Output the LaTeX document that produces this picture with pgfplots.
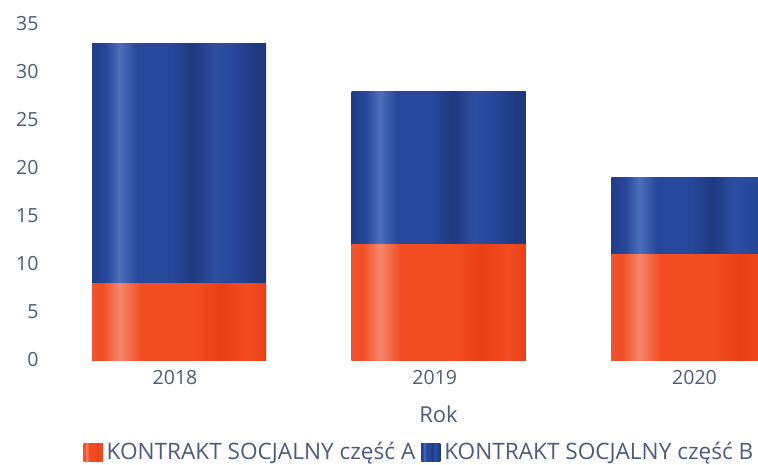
\documentclass[border=0pt]{standalone}
\usepackage{pgfplots}
\pgfplotsset{compat=1.18}
\usepackage{fontspec}
\setmainfont{Open Sans}
\definecolor{txt}{HTML}{4F5A7C}
\definecolor{orA}{HTML}{F24A20}
\definecolor{blB}{HTML}{22408E}
\definecolor{or1}{HTML}{EE5532}
\definecolor{or2}{HTML}{F24D22}
\definecolor{or3}{HTML}{F5876C}
\definecolor{or4}{HTML}{EA3E16}
\definecolor{b1}{HTML}{203D86}
\definecolor{b2}{HTML}{27479B}
\definecolor{b3}{HTML}{4E6DBA}
\definecolor{b4}{HTML}{1E397E}
\definecolor{b5}{HTML}{2D4DA0}
\pgfdeclarehorizontalshading{orshade}{100bp}{color(0bp)=(or1); color(25bp)=(or1); color(28bp)=(or2); color(33bp)=(or3); color(39bp)=(or2); color(55bp)=(or2); color(62bp)=(or4); color(70bp)=(or2); color(75bp)=(or4); color(100bp)=(or4)}
\pgfdeclarehorizontalshading{blshade}{100bp}{color(0bp)=(b1); color(25bp)=(b1); color(29bp)=(b2); color(33bp)=(b3); color(38bp)=(b2); color(48bp)=(b2); color(54bp)=(b4); color(60bp)=(b5); color(66bp)=(b2); color(72bp)=(b4); color(75bp)=(b4); color(100bp)=(b4)}
\begin{document}
\begin{tikzpicture}
\useasboundingbox (0,0) rectangle (758pt,-465pt);
\begin{axis}[
  at={(45pt,-360pt)}, anchor=south west,
  scale only axis, width=713pt, height=336pt,
  xmin=-0.5159, xmax=2.2291, ymin=0, ymax=35,
  ybar, bar width=174pt, bar shift=0pt,
  xtick={0,1,2}, xticklabels={2018,2019,2020},
  ytick={0,5,...,35},
  axis line style={draw=none}, major tick length=0pt,
  tick label style={font=\fontsize{19.5}{23}\selectfont, text=txt},
  /pgf/number format/assume math mode=true,
  yticklabel style={xshift=-3pt},
  xticklabel style={yshift=-7pt, xshift=-4pt},
  xlabel={Rok},
  xlabel style={at={(axis description cs:0.552,-0.16)}, anchor=center, font=\fontsize{22}{26}\selectfont, text=txt},
  legend columns=2,
  legend style={at={(axis description cs:0.5238,-0.2738)}, anchor=center, draw=none, fill=none,
    font=\fontsize{22.6}{26}\selectfont, text=txt, inner sep=0pt,
    nodes={inner sep=0pt},
    /tikz/every even column/.append style={column sep=6pt}},
  legend cell align=left,
  legend image code/.code={\fill[#1] (0pt,-9pt) rectangle (19pt,9pt); \path (23pt,0pt);},
]
\addlegendimage{draw=none, fill=orA, shading=orshade}
\addlegendimage{draw=none, fill=blB, shading=blshade}
% totals (A + B) drawn in blue, part A drawn over them
\addplot[forget plot, draw=none, shading=blshade] coordinates {(0,33)};
\addplot[forget plot, draw=none, shading=blshade] coordinates {(1,28)};
\addplot[forget plot, draw=none, shading=blshade] coordinates {(2,19)};
\addplot[forget plot, draw=none, shading=orshade] coordinates {(0,8)};
\addplot[forget plot, draw=none, shading=orshade] coordinates {(1,12)};
\addplot[forget plot, draw=none, shading=orshade] coordinates {(2,11)};
\legend{KONTRAKT SOCJALNY część A, KONTRAKT SOCJALNY część B}
\end{axis}
\end{tikzpicture}
\end{document}
